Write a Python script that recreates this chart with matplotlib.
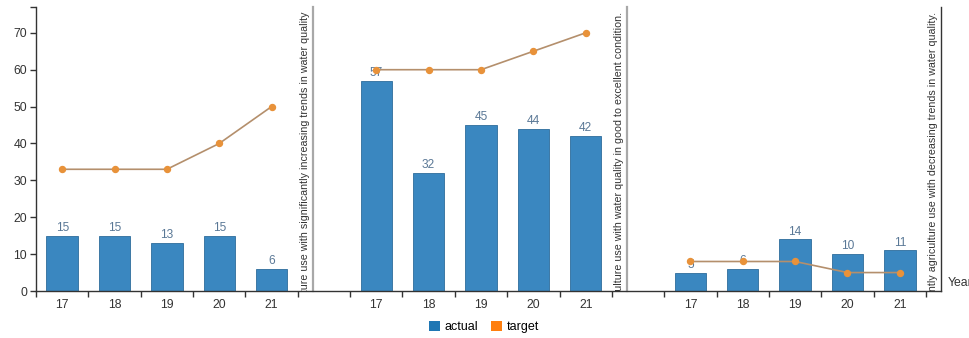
import matplotlib
matplotlib.use('Agg')
import matplotlib.pyplot as plt
from matplotlib.patches import Patch

# ---------------- data ----------------
years = ['17', '18', '19', '20', '21']
actual_increasing = [15, 15, 13, 15, 6]
target_increasing = [33, 33, 33, 40, 50]
actual_good = [57, 32, 45, 44, 42]
target_good = [60, 60, 60, 65, 70]
actual_decreasing = [5, 6, 14, 10, 11]
target_decreasing = [8, 8, 8, 5, 5]
panel_titles = [
    "Percentage of sites in catchments with predominantly agriculture use with significantly increasing trends in water quality",
    "Percentage of sites in catchments with predominantly agriculture use with water quality in good to excellent condition.",
    "Percentage of sites in catchments with predominantly agriculture use with decreasing trends in water quality.",
]
y_ticks = [0, 10, 20, 30, 40, 50, 60, 70]
y_max = 77
series_names = ['actual', 'target']
x_label = 'Year'

panels = [
    (actual_increasing, target_increasing),
    (actual_good, target_good),
    (actual_decreasing, target_decreasing),
]

# ---------------- style ----------------
plt.rcParams['font.family'] = ['Liberation Sans', 'DejaVu Sans']
W, H = 969, 338
BAR = '#3a87c0'
BAR_EDGE = '#2d6c9c'
LINE = '#b48f6c'
MARK = '#e8923a'
LABEL = '#5a7896'
AXC = '#333333'

fig = plt.figure(figsize=(W / 100, H / 100), dpi=100)
ax = fig.add_axes([36 / W, (H - 291) / H, (941 - 36) / W, (291 - 7) / H])

band_px = (926 - 36) / 17.0
extra = 15 / band_px
n_bands = 3 * len(years) + 2
ax.set_xlim(0, n_bands + extra)
ax.set_ylim(0, y_max)

centers_all = []
labels_all = []
for p, (act, tgt) in enumerate(panels):
    off = p * (len(years) + 1)
    xs = [off + i + 0.5 for i in range(len(years))]
    ax.bar(xs, act, width=0.6, color=BAR, edgecolor=BAR_EDGE, linewidth=0.6, zorder=2)
    for x, v in zip(xs, act):
        ax.annotate(str(v), (x, v), xytext=(0, 1.2), textcoords='offset points',
                    ha='center', va='bottom', fontsize=8.6, color=LABEL, zorder=3)
    ax.plot(xs, tgt, color=LINE, lw=1.2, zorder=4)
    ax.plot(xs, tgt, ls='none', marker='o', ms=4.3, mfc=MARK, mec=MARK, zorder=5)
    centers_all += xs
    labels_all += years
    sep = off + len(years) + extra
    ax.axvline(sep, color='#a8a8a8' if p < 2 else AXC, lw=1.6 if p < 2 else 1.0,
               zorder=1, clip_on=False)
    ax.text(sep - 3 / band_px, y_max - 5.0 / (284 / y_max), panel_titles[p],
            rotation=90, ha='right', va='top', fontsize=7.7, color=AXC,
            clip_on=True, zorder=1)

# axes
for s in ['top', 'right']:
    ax.spines[s].set_visible(False)
for s in ['left', 'bottom']:
    ax.spines[s].set_color(AXC)
    ax.spines[s].set_linewidth(1.0)

ax.set_xticks(range(n_bands + 1))
ax.set_xticklabels([])
ax.set_xticks(centers_all, minor=True)
ax.set_xticklabels(labels_all, minor=True)
ax.tick_params(axis='x', which='major', length=4.3, width=1, color=AXC, direction='out')
ax.tick_params(axis='x', which='minor', length=0, pad=5.5, labelsize=8.8, labelcolor=AXC)

ax.set_yticks(y_ticks + [y_max])
ax.set_yticklabels([str(t) for t in y_ticks] + [''])
ax.tick_params(axis='y', length=4.3, width=1, color=AXC, pad=2, labelsize=8.8, labelcolor=AXC)

fig.text(948 / W, 1 - 283 / H, x_label, ha='left', va='center', fontsize=8.8, color=AXC)

handles = [Patch(facecolor='#1f77b4'), Patch(facecolor='#ff7f0e')]
fig.legend(handles, series_names, loc='center', bbox_to_anchor=(484 / W, 1 - 327 / H),
           ncol=2, frameon=False, fontsize=9, handlelength=0.9, handleheight=0.9,
           handletextpad=0.35, columnspacing=1.0, borderpad=0)

fig.savefig('out.png', dpi=100)
